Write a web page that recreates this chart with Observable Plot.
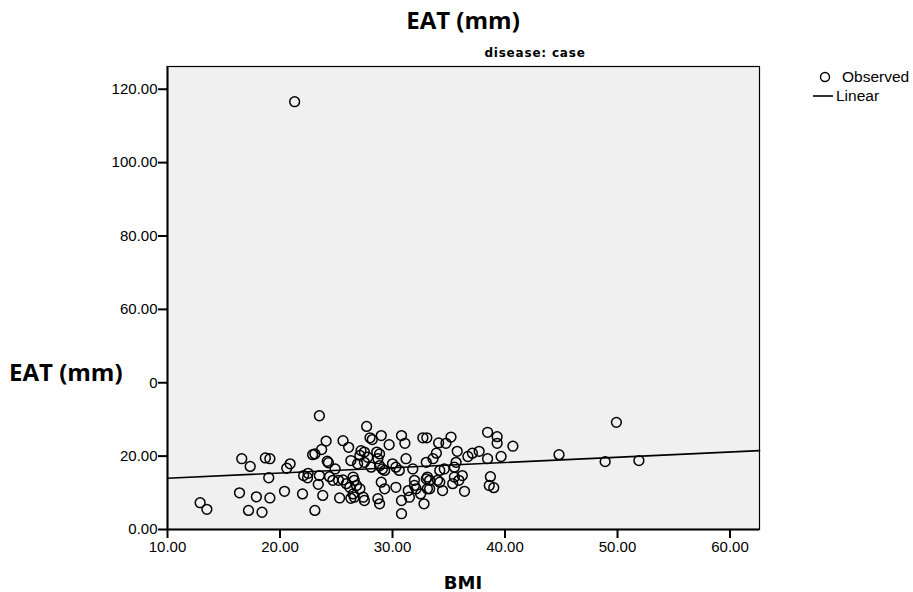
<!DOCTYPE html>
<html>
<head>
<meta charset="utf-8">
<script src="https://cdn.jsdelivr.net/npm/d3@7"></script>
<script src="https://cdn.jsdelivr.net/npm/@observablehq/plot@0.6"></script>
<style>
  html, body { margin: 0; padding: 0; background: #fff; }
  #wrap { position: relative; width: 913px; height: 592px; overflow: hidden; }
  #wrap svg.plot { position: absolute; left: 0; top: 0; }
  .lbl { position: absolute; white-space: nowrap; color: #000; }
</style>
</head>
<body>
<div id="wrap">
  <div class="lbl" id="title" style="left:0;width:926px;top:3px;text-align:center;font:700 24px 'Open Sans';">EAT (mm)</div>
  <div class="lbl" id="subtitle" style="left:0;width:1070px;top:46px;text-align:center;font:700 12px 'DejaVu Sans';letter-spacing:0.8px;">disease: case</div>
  <div class="lbl" id="ylab" style="left:0;top:355px;width:149px;height:36px;line-height:34px;background:#fff;z-index:2;font:700 24px 'Open Sans';padding-left:9px;box-sizing:border-box;">EAT (mm)</div>
  <div class="lbl" id="xlab" style="left:0;width:926px;top:572px;text-align:center;font:700 18px 'DejaVu Sans';">BMI</div>
  <svg id="legend" width="913" height="592" style="position:absolute;left:0;top:0;pointer-events:none;">
    <circle cx="825" cy="77" r="4.5" fill="none" stroke="#000" stroke-width="1.4"></circle>
    <line x1="813" x2="833" y1="96" y2="96" stroke="#000" stroke-width="1.6"></line>
  </svg>
  <div class="lbl" style="left:842px;top:68px;font:15.5px 'Liberation Sans';">Observed</div>
  <div class="lbl" style="left:836px;top:87px;font:15.5px 'Liberation Sans';">Linear</div>
</div>
<script>
const bmi = [
  16.6, 17.35, 18.7, 19.1, 19.0, 16.4, 17.9, 19.1, 12.9, 13.5, 17.2, 18.4,
  21.3, 23.5, 24.1, 25.6, 26.1, 23.7, 22.9, 23.1, 24.2, 24.3, 26.3, 20.9,
  20.6, 22.5, 22.1, 22.45, 23.5, 24.9, 24.4, 24.7, 25.2, 25.6, 25.9, 26.2,
  23.4, 23.8, 25.3, 26.3, 20.4, 22.0, 23.1, 27.7, 28.0, 28.2, 29.0, 29.7,
  30.8, 31.1, 32.7, 33.05, 27.2, 27.5, 27.1, 27.8, 28.6, 28.85, 28.7, 26.9,
  27.5, 28.1, 28.85, 29.1, 29.3, 30.0, 30.3, 30.6, 31.2, 31.8, 33.0, 26.5,
  26.6, 26.8, 27.1, 26.5, 26.6, 27.4, 27.5, 28.7, 28.85, 29.0, 29.3, 30.3,
  30.8, 31.4, 31.5, 31.95, 31.95, 32.1, 32.5, 32.8, 33.0, 33.1, 30.8, 35.2,
  34.75, 34.1, 38.45, 39.3, 39.3, 35.75, 33.9, 33.6, 36.7, 37.1, 37.7, 38.45,
  39.65, 35.65, 34.6, 34.2, 35.5, 33.1, 33.3, 34.0, 34.2, 35.5, 35.9, 36.2,
  38.7, 38.6, 39.0, 33.3, 34.45, 35.35, 36.4, 40.7, 44.8, 49.9, 48.9, 51.9
];
const eat = [
  19.3, 17.2, 19.5, 19.3, 14.1, 10.0, 8.9, 8.6, 7.3, 5.5, 5.2, 4.7,
  116.6, 31.0, 24.1, 24.2, 22.4, 21.8, 20.4, 20.6, 18.6, 18.2, 18.8, 17.9,
  16.7, 15.3, 14.7, 14.1, 14.7, 16.5, 14.4, 13.4, 13.4, 13.5, 12.5, 11.5,
  12.3, 9.3, 8.6, 8.5, 10.4, 9.7, 5.2, 28.1, 25.0, 24.5, 25.6, 23.1,
  25.6, 23.5, 25.0, 25.0, 21.5, 21.1, 20.2, 19.7, 21.1, 20.6, 19.3, 17.9,
  18.3, 17.0, 17.4, 16.5, 16.1, 17.9, 17.0, 16.1, 19.3, 16.5, 18.3, 14.3,
  13.4, 12.0, 11.1, 9.7, 8.8, 8.8, 7.9, 8.4, 7.0, 12.9, 11.1, 11.5,
  7.9, 10.6, 8.8, 13.4, 12.0, 11.1, 9.7, 7.0, 13.8, 11.1, 4.3, 25.2,
  23.5, 23.6, 26.5, 25.3, 23.5, 21.3, 20.8, 19.3, 19.9, 20.8, 21.3, 19.3,
  19.9, 18.3, 16.5, 16.1, 17.0, 14.3, 13.4, 13.4, 12.9, 14.3, 13.4, 14.7,
  14.4, 12.0, 11.4, 11.1, 10.6, 12.5, 10.4, 22.7, 20.4, 29.2, 18.5, 18.8
];
// Linear fit (as drawn in the reference)
const fitIntercept = 12.55;
const fitSlope = 0.143;
// Axis ticks and domains
const xTicks = [10, 20, 30, 40, 50, 60];
const yTicks = [0, 20, 40, 60, 80, 100, 120];
const xDomain = [10, 62.62];
const yDomain = [0, 126.2];

const points = bmi.map((b, i) => ({bmi: b, eat: eat[i]}));
const fitLine = xDomain.map(x => ({bmi: x, eat: fitIntercept + fitSlope * x}));

const chart = Plot.plot({
  width: 913,
  height: 592,
  marginLeft: 167,
  marginRight: 154,
  marginTop: 66,
  marginBottom: 63,
  style: {fontFamily: "'Liberation Sans'", fontSize: "15px", background: "transparent", color: "#000"},
  x: {domain: xDomain},
  y: {domain: yDomain},
  marks: [
    Plot.frame({fill: "#f0f0f0", stroke: "none"}),
    Plot.dot(points, {x: "bmi", y: "eat", r: 4.9, stroke: "#000", strokeWidth: 1.5, fill: "none"}),
    Plot.line(fitLine, {x: "bmi", y: "eat", stroke: "#000", strokeWidth: 1.6}),
    Plot.frame({stroke: "#000", strokeWidth: 1.2}),
    Plot.ruleY([yDomain[0]], {stroke: "#000", strokeWidth: 2}),
    Plot.ruleX([xDomain[0]], {stroke: "#000", strokeWidth: 2}),
    Plot.axisX({ticks: xTicks, tickFormat: d => d.toFixed(2), tickSize: 9, tickPadding: 3, label: null, fontSize: 15, strokeWidth: 2}),
    Plot.axisY({ticks: yTicks, tickFormat: d => d.toFixed(2), tickSize: 9, tickPadding: 1, label: null, fontSize: 15, strokeWidth: 2})
  ]
});
chart.classList.add("plot");
document.getElementById("wrap").prepend(chart);
</script>
</body>
</html>
